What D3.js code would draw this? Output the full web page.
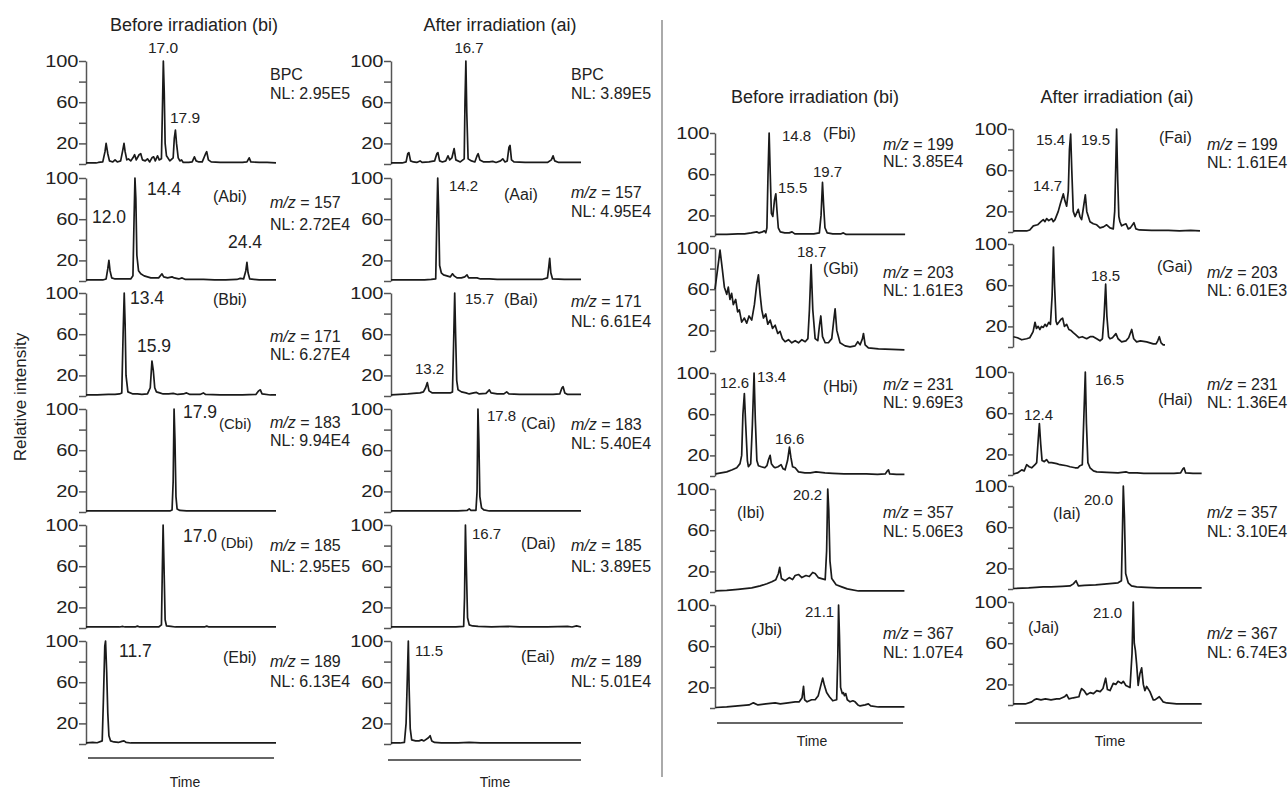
<!DOCTYPE html>
<html>
<head>
<meta charset="utf-8">
<script src="https://cdn.jsdelivr.net/npm/d3@7"></script>
<style>
  body { margin: 0; background: #fff; }
  svg { display: block; }
</style>
</head>
<body>
<div id="chart"></div>
<script>
const width = 1288;
const height = 792;
const FONT = '"Liberation Sans", Arial, Helvetica, sans-serif';

// ---- data: panels, m/z, NL ----
const colTitles = ['Before irradiation (bi)', 'After irradiation (ai)', 'Before irradiation (bi)', 'After irradiation (ai)'];
const panelsLeftBi = ['BPCbi', 'Abi', 'Bbi', 'Cbi', 'Dbi', 'Ebi'];
const panelsLeftAi = ['BPCai', 'Aai', 'Bai', 'Cai', 'Dai', 'Eai'];
const panelsRightBi = ['Fbi', 'Gbi', 'Hbi', 'Ibi', 'Jbi'];
const panelsRightAi = ['Fai', 'Gai', 'Hai', 'Iai', 'Jai'];
const mzLeft = [null, 157, 171, 183, 185, 189];
const mzRight = [199, 203, 231, 357, 367];
const nlLeftBi = ['2.95E5', '2.72E4', '6.27E4', '9.94E4', '2.95E5', '6.13E4'];
const nlLeftAi = ['3.89E5', '4.95E4', '6.61E4', '5.40E4', '3.89E5', '5.01E4'];
const nlRightBi = ['3.85E4', '1.61E3', '9.69E3', '5.06E3', '1.07E4'];
const nlRightAi = ['1.61E4', '6.01E3', '1.36E4', '3.10E4', '6.74E3'];
const yTicks = [0, 20, 40, 60, 80, 100];
const yTickLabels = [100, 60, 20];

// ---- data: chromatogram traces [time (min), relative intensity] ----
const tBPCbi = [[10,1],[10.9,1],[11.1,1.5],[11.5,2],[11.7,12],[11.8,20],[11.95,10],[12.1,3],[12.4,2],[12.6,4],[12.8,2],[13.1,3],[13.3,14],[13.4,20],[13.5,12],[13.65,4],[13.8,5],[14.0,3],[14.2,6],[14.35,9],[14.5,4],[14.75,9],[14.9,10],[15.05,4],[15.3,3],[15.5,5],[15.7,2],[15.9,6],[16.05,7],[16.2,3],[16.4,8],[16.55,4],[16.75,5],[16.85,60],[16.92,100],[17.0,70],[17.08,20],[17.2,8],[17.5,3],[17.8,6],[17.9,25],[18.0,33],[18.1,20],[18.25,6],[18.4,3],[18.55,4],[18.7,1.5],[19.2,1.5],[19.5,2],[19.7,7],[19.85,3],[20.1,2],[20.4,2],[20.7,10],[20.8,12],[20.95,4],[21.2,2],[22,1.5],[23,1.5],[24,1.5],[24.4,2],[24.6,6],[24.75,2],[25.5,1.5],[26.2,1.5],[27,1]];
const tAbi = [[10,1],[11.5,1],[11.8,2],[11.95,12],[12.05,20],[12.15,10],[12.3,3],[12.6,2],[13.2,2],[13.6,2],[14.0,2],[14.2,5],[14.3,60],[14.38,100],[14.46,80],[14.55,25],[14.7,10],[14.9,7],[15.2,5],[15.5,4],[15.8,3],[16.2,3],[16.5,3],[16.8,7],[16.95,4],[17.3,3],[17.7,4],[17.9,3],[18.3,2],[18.6,3],[18.9,1.5],[19.5,1.5],[20.5,1.5],[21.5,1],[22.5,1],[23.5,1.5],[23.8,2.5],[24.1,2],[24.3,10],[24.4,18],[24.5,8],[24.65,2],[25.5,1],[26.5,1],[27,1]];
const tBbi = [[10,1],[11,1],[12,1.5],[12.6,1.5],[13,2],[13.2,3],[13.32,60],[13.42,100],[13.5,70],[13.58,20],[13.75,4],[14.2,2],[14.6,2],[15.0,1.5],[15.5,2],[15.75,8],[15.9,34],[16.02,25],[16.15,8],[16.3,4],[16.6,3],[16.9,2],[17.4,2],[17.8,2.5],[18.2,1.5],[18.7,2],[19.0,3],[19.3,1.5],[20.2,1.5],[20.5,3],[20.7,1.5],[22,1],[24,1],[25.2,1.5],[25.45,5],[25.6,6],[25.75,2],[26.5,1],[27,1]];
const tCbi = [[10,1],[12,1],[14,1],[16,1],[17.5,1],[17.7,2],[17.8,30],[17.88,100],[17.96,70],[18.05,15],[18.15,3],[18.4,1.5],[19,1],[21,1],[24,1],[27,1]];
const tDbi = [[10,1],[11.5,1],[13.0,1],[13.3,1.5],[13.5,1],[14.4,1],[14.6,1.8],[14.8,1],[16.5,1],[16.75,3],[16.82,50],[16.9,100],[16.98,60],[17.08,8],[17.2,2],[17.6,1.5],[18,1],[20.6,1],[20.8,1.8],[21,1],[24,1],[27,1]];
const tEbi = [[10,1],[10.6,1.5],[11.0,1.2],[11.45,3],[11.55,40],[11.68,95],[11.75,100],[11.85,70],[11.95,30],[12.05,8],[12.2,3],[12.5,2],[12.9,1.5],[13.2,2.5],[13.4,3],[13.6,1.5],[14,1],[16,1],[18,1],[20,1],[23,1],[27,1]];
const tBPCai = [[10,1],[11,1],[11.35,2],[11.5,10],[11.6,11],[11.75,3],[12.0,2],[12.3,1.5],[12.6,3],[12.8,1.5],[13.4,2],[13.9,3],[14.1,10],[14.2,11],[14.35,3],[14.6,2],[14.9,3],[15.1,8],[15.25,4],[15.45,6],[15.65,15],[15.8,4],[16.2,2],[16.55,5],[16.62,60],[16.7,100],[16.78,50],[16.9,5],[17.2,3],[17.5,2],[17.7,8],[17.8,10],[17.95,4],[18.3,2],[18.8,2],[19.1,2.5],[19.4,1.5],[19.8,3],[20.0,5],[20.2,2],[20.4,3],[20.55,16],[20.65,18],[20.78,4],[21.0,2],[22,1.5],[23,1.5],[24,1.5],[24.35,4],[24.5,8],[24.65,3],[25,1.5],[26,1.5],[27,1.5]];
const tAai = [[10,1],[12,1],[13,1],[13.6,1.5],[14.0,2],[14.1,60],[14.18,100],[14.26,70],[14.35,15],[14.5,8],[14.7,6],[15.0,5],[15.3,4],[15.5,7],[15.65,5],[15.9,3],[16.3,3],[16.6,4],[16.8,6],[16.95,3],[17.3,3],[17.7,3],[18.0,2],[18.8,2],[19.5,1.5],[20.5,1.5],[21.5,1.5],[22.5,1.5],[23.5,1.5],[24.0,3],[24.12,14],[24.2,22],[24.3,8],[24.45,2],[25.5,1.5],[27,1.5]];
const tBai = [[10,1],[10.8,1.5],[11.5,2],[12,2.5],[12.6,3],[12.9,4],[13.1,8],[13.25,13],[13.4,5],[13.7,3],[14.4,3],[15.3,3],[15.5,4],[15.6,50],[15.7,100],[15.78,60],[15.88,15],[16.0,6],[16.3,4],[16.7,3],[17.0,2],[17.4,3],[17.65,3.5],[17.9,2],[18.5,2.5],[18.8,6],[18.95,3],[19.5,2],[20.1,2],[20.35,4],[20.55,2],[21.5,1.5],[22.5,1.5],[23.5,1.5],[24.5,1.5],[25.1,2],[25.3,8],[25.4,9],[25.55,3],[25.8,1.5],[27,1.5]];
const tCai = [[10,1],[12,1],[14,1],[16,1],[16.8,1.5],[17.0,3],[17.15,1.5],[17.6,1.5],[17.7,20],[17.78,100],[17.86,70],[17.95,15],[18.1,4],[18.3,2],[18.8,1],[20,1],[22,1],[24,1],[27,1]];
const tDai = [[10,1],[11.5,1.2],[12.5,1],[14.5,1],[15.8,1],[16.5,1.5],[16.58,30],[16.66,100],[16.74,60],[16.85,10],[17.0,3],[17.3,2],[17.8,1.5],[19,1],[20.5,1.5],[21.5,1],[24,1],[25.8,1.5],[26.2,1],[26.6,2],[27,1]];
const tEai = [[10,1],[10.8,1],[11.2,1.5],[11.35,20],[11.45,60],[11.55,100],[11.62,55],[11.72,15],[11.85,4],[12.2,3],[12.5,3],[12.75,4],[12.95,3],[13.35,6],[13.5,8],[13.65,3],[13.9,1.5],[14.5,1],[16,1],[17,1.5],[18,1],[21,1],[24,1],[27,1]];
const tFbi = [[10.0,1.5],[11.0,1.5],[12.0,2],[12.6,2],[13.2,3],[13.69,4],[13.9,3],[14.2,4],[14.38,5],[14.5,3],[14.6,8],[14.7,60],[14.8,100],[14.9,60],[15.0,22],[15.13,19],[15.28,35],[15.4,41],[15.5,25],[15.62,8],[15.8,4],[16.2,3],[16.6,3],[16.85,4],[17.1,2],[17.8,2],[18.3,2],[18.8,2],[19.3,3],[19.45,20],[19.58,52],[19.68,30],[19.8,8],[20.0,3],[20.5,2],[21.2,2],[21.45,3],[21.7,1.5],[22.5,1.5],[23.5,1.5],[24.5,1.5],[25.5,1.5],[26.98,1.5]];
const tGbi = [[9.95,60],[10.25,85],[10.4,98],[10.6,80],[10.79,62],[11.0,55],[11.14,62],[11.29,50],[11.44,56],[11.59,45],[11.8,50],[11.98,38],[12.13,40],[12.34,28],[12.58,32],[12.79,27],[13.0,34],[13.24,30],[13.48,45],[13.69,65],[13.84,74],[13.99,55],[14.14,40],[14.29,32],[14.5,36],[14.68,26],[14.89,30],[15.1,22],[15.34,25],[15.57,17],[15.78,19],[15.99,12],[16.23,9],[16.53,11],[16.83,8],[17.13,10],[17.43,8],[17.73,11],[18.03,9],[18.27,12],[18.41,40],[18.56,84],[18.71,40],[18.92,12],[19.16,10],[19.31,25],[19.43,34],[19.58,14],[19.82,8],[20.11,8],[20.41,12],[20.59,30],[20.71,41],[20.86,20],[21.15,8],[21.6,5],[22.05,4],[22.5,5],[22.74,9],[22.95,6],[23.16,12],[23.25,17],[23.4,6],[23.69,3],[24.59,2],[25.79,1.5],[26.92,1]];
const tHbi = [[10.0,2],[10.5,3],[11.0,4],[11.5,6],[11.9,8],[12.19,12],[12.34,20],[12.45,60],[12.58,80],[12.7,50],[12.85,15],[12.94,9],[13.15,12],[13.3,50],[13.45,100],[13.56,55],[13.7,15],[13.84,10],[14.1,9],[14.4,8],[14.6,10],[14.75,16],[14.89,20],[15.0,12],[15.2,9],[15.34,8],[15.6,9],[15.87,11],[16.05,7],[16.23,6],[16.45,15],[16.62,28],[16.75,18],[16.9,9],[17.13,8],[17.43,4],[18,3],[18.5,3],[19,4],[19.8,3],[20.5,2.5],[21.5,2],[22.5,2],[23.5,2],[24.5,1.5],[25.2,2],[25.4,5],[25.49,6],[25.6,2],[26.2,1.5],[26.92,1.5]];
const tIbi = [[10.0,1],[11.0,1.5],[12.0,2.5],[13.24,4],[14.0,6],[14.6,8],[15.04,10],[15.4,12],[15.63,18],[15.75,24],[15.9,13],[16.23,11],[16.6,14],[16.9,12],[17.13,16],[17.43,17],[17.73,14],[18.1,16],[18.4,15],[18.7,19],[18.92,18],[19.2,14],[19.5,13],[19.82,12],[19.95,40],[20.05,100],[20.14,80],[20.25,30],[20.41,13],[20.8,7],[21.3,5],[21.8,3],[22.8,1],[24,1],[26.92,1]];
const tJbi = [[10.0,0.5],[11,1],[12,2],[13.0,3],[13.39,5],[13.8,3],[14.5,4],[15.34,5],[15.8,4],[16.5,5],[17.13,6],[17.5,6],[17.75,10],[17.88,21],[17.98,8],[18.2,6],[18.6,8],[18.92,8],[19.2,12],[19.43,22],[19.6,29],[19.75,22],[19.95,15],[20.2,11],[20.5,7],[20.85,8],[20.95,50],[21.02,100],[21.1,70],[21.2,20],[21.35,14],[21.45,15],[21.55,12],[21.66,14],[21.8,8],[22.05,6],[22.3,7],[22.5,6],[22.75,3],[22.95,2],[23.4,3],[23.69,4],[23.9,2],[24.59,1],[26.92,1]];
const tFai = [[10.13,1],[11.32,1],[11.6,2],[11.92,6],[12.3,7],[12.6,10],[12.81,12],[12.96,10],[13.11,13],[13.3,11],[13.56,13],[13.7,10],[13.86,12],[14.15,20],[14.35,28],[14.6,37],[14.75,30],[14.9,25],[15.05,40],[15.15,80],[15.26,95],[15.36,60],[15.49,20],[15.65,15],[15.94,22],[16.09,15],[16.24,12],[16.42,25],[16.57,36],[16.7,20],[16.99,10],[17.28,8],[17.59,7],[17.88,4],[18.2,5],[18.48,7],[18.78,4],[19.07,3],[19.2,20],[19.37,100],[19.47,50],[19.57,15],[19.67,10],[19.82,6],[20.0,7],[20.21,8],[20.41,3],[20.6,4],[20.92,9],[21.1,3],[21.4,2],[22.5,1.5],[24,1.5],[25,1],[26,1.5],[26.83,1]];
const tGai = [[10.13,10],[10.5,9],[10.88,7],[11.32,8],[11.6,9],[11.9,15],[12.07,24],[12.2,18],[12.35,20],[12.51,17],[12.65,20],[12.81,19],[12.96,22],[13.11,20],[13.3,24],[13.45,22],[13.6,50],[13.72,97],[13.82,60],[13.95,25],[14.05,22],[14.2,24],[14.4,27],[14.54,28],[14.7,20],[14.9,22],[15.1,17],[15.3,16],[15.49,14],[15.7,12],[15.99,9],[16.3,10],[16.69,8],[17.0,10],[17.28,10],[17.59,8],[17.88,6],[18.1,8],[18.25,30],[18.39,61],[18.5,30],[18.65,10],[18.78,8],[19.0,9],[19.31,13],[19.5,8],[19.82,5],[20.2,6],[20.45,9],[20.72,17],[20.9,8],[21.16,5],[21.5,6],[22.06,5],[22.65,3],[22.9,3],[23.05,6],[23.19,10],[23.35,4],[23.54,2],[23.7,2]];
const tHai = [[10.13,1],[10.5,2],[10.88,5],[11.1,4],[11.32,10],[11.55,8],[11.77,7],[12.07,10],[12.22,12],[12.36,35],[12.46,50],[12.58,30],[12.7,14],[12.9,13],[13.1,15],[13.3,12],[13.56,12],[14.01,11],[14.3,10],[14.9,9],[15.2,8],[15.65,7],[15.9,7],[16.09,9],[16.3,10],[16.45,60],[16.57,100],[16.67,50],[16.8,12],[16.99,7],[17.3,4],[17.59,3],[18.5,2.5],[19.5,2],[20.21,3],[20.5,2],[21.2,2],[21.8,1.5],[23,1.5],[24.5,1.5],[25.1,2],[25.3,6],[25.4,7],[25.55,2],[26.2,1.5],[26.98,1.5]];
const tIai = [[10.13,0.5],[11.5,1],[12.81,2],[13.5,2],[14.5,2.5],[15.2,3],[15.5,5],[15.74,8],[15.95,3],[16.5,3.5],[17.5,4],[18.5,5],[19.5,6],[19.8,8],[19.9,60],[19.97,100],[20.07,70],[20.18,15],[20.41,6],[20.7,3],[21.16,2],[22,1.5],[23,1],[25,1],[26.98,1]];
const tJai = [[10.13,1],[11.2,1],[11.77,3],[12.0,5],[12.22,6],[12.6,5],[13.0,6],[13.5,5],[14.0,6],[14.3,6],[14.7,8],[14.9,10],[15.1,6],[15.5,7],[16.0,8],[16.1,12],[16.24,16],[16.45,14],[16.7,10],[17.0,12],[17.3,11],[17.59,14],[17.9,13],[18.15,16],[18.39,26],[18.55,15],[18.78,14],[19.07,21],[19.3,20],[19.5,23],[19.8,21],[19.97,23],[20.2,19],[20.57,17],[20.75,50],[20.86,100],[20.95,60],[21.05,53],[21.16,40],[21.3,19],[21.45,30],[21.61,36],[21.76,20],[21.9,14],[22.06,18],[22.35,13],[22.65,5],[22.8,5],[23.19,8],[23.4,5],[23.54,3],[23.85,2],[24.74,1],[26.98,1]];

// ---- data: peak retention-time labels [panel, text, time, intensity, anchor] ----
const peakLabels = [
  ['BPCbi','17.0',16.89,107.8,'middle'], ['BPCbi','17.9',17.51,39.8],
  ['Abi','14.4',15.46,83.5], ['Abi','12.0',10.54,56.3], ['Abi','24.4',22.7,32],
  ['Bbi','13.4',13.94,89.3], ['Bbi','15.9',14.56,42.7],
  ['Cbi','17.9',18.68,91.3], ['Dbi','17.0',18.68,83.5], ['Ebi','11.7',12.95,84.5],
  ['BPCai','16.7',16.98,107.8,'middle'], ['Aai','14.2',15.19,87.4],
  ['Bai','15.7',16.62,89.3], ['Bai','13.2',12.15,21.4],
  ['Cai','17.8',18.59,88.3], ['Dai','16.7',17.25,86.4], ['Eai','11.5',12.15,85.4],
  ['Fbi','14.8',15.95,92.2], ['Fbi','19.7',18.73,57.3], ['Fbi','15.5',15.6,41.7],
  ['Gbi','18.7',17.3,91.3],
  ['Hbi','12.6',10.4,85.4], ['Hbi','13.4',13.71,91.3], ['Hbi','16.6',15.33,31.1],
  ['Ibi','20.2',16.94,89.3], ['Jbi','21.1',18.01,88.3],
  ['Fai','15.4',12.16,84.5], ['Fai','19.5',16.18,84.5], ['Fai','14.7',11.89,39.8],
  ['Gai','18.5',17.08,64.1],
  ['Hai','16.5',17.43,87.4], ['Hai','12.4',11.08,53.4],
  ['Iai','20.0',16.45,81.6], ['Jai','21.0',17.26,84.5]
];

// panel tags [panel, time, intensity]
const panelTags = [
  ['Abi',21.36,76.7], ['Bbi',21.36,88.3], ['Cbi',21.9,80.6], ['Dbi',22.05,77.6], ['Ebi',22.25,78.6],
  ['Aai',20.11,78.6], ['Bai',20.11,88.3], ['Cai',21.63,80.6], ['Dai',21.63,76.7], ['Eai',21.63,79.6],
  ['Fbi',19.63,94.2], ['Gbi',19.63,74.8], ['Hbi',19.63,81.6], ['Ibi',11.92,71.8], ['Jbi',13.18,70.9],
  ['Fai',23.16,86.4], ['Gai',22.98,72.8], ['Hai',23.07,68], ['Iai',13.68,68], ['Jai',11.44,69.9]
];

const traces = {
  BPCbi: tBPCbi, Abi: tAbi, Bbi: tBbi, Cbi: tCbi, Dbi: tDbi, Ebi: tEbi,
  BPCai: tBPCai, Aai: tAai, Bai: tBai, Cai: tCai, Dai: tDai, Eai: tEai,
  Fbi: tFbi, Gbi: tGbi, Hbi: tHbi, Ibi: tIbi, Jbi: tJbi,
  Fai: tFai, Gai: tGai, Hai: tHai, Iai: tIai, Jai: tJai
};

// ---- layout ----
const panelH = 103;
const columns = [
  { panels: panelsLeftBi, mz: mzLeft, nl: nlLeftBi, x0: 86, x1: 276, dom: [10, 27],
    tops: [61, 178, 293, 409, 525, 641], tick: 7, annX: 270,
    mzY: [80, 208, 342, 428, 551, 667], nlY: [99, 230, 360, 446, 572, 687],
    titleX: 194, titleY: 31, timeLine: [88, 274, 758], timeLabel: [185, 787], peakSize: 17.5 },
  { panels: panelsLeftAi, mz: mzLeft, nl: nlLeftAi, x0: 391, x1: 581, dom: [10, 27],
    tops: [61, 178, 293, 409, 525, 641], tick: 7, annX: 571,
    mzY: [80, 198, 307, 430, 551, 667], nlY: [99, 217, 327, 449, 572, 687],
    titleX: 500, titleY: 31, timeLine: [388, 581, 760], timeLabel: [495, 787], peakSize: 15 },
  { panels: panelsRightBi, mz: mzRight, nl: nlRightBi, x0: 715, x1: 907, dom: [9.95, 27.15],
    tops: [133, 248, 373, 489, 605], tick: 5, annX: 883,
    mzY: [150, 278, 390, 518, 639], nlY: [167, 296, 408, 537, 658],
    titleX: 815, titleY: 103, timeLine: [717, 903, 723], timeLabel: [812, 746], peakSize: 15 },
  { panels: panelsRightAi, mz: mzRight, nl: nlRightAi, x0: 1013, x1: 1203, dom: [10.1, 27.1],
    tops: [129, 244, 372, 486, 602], tick: 5, annX: 1207,
    mzY: [150, 278, 390, 518, 639], nlY: [168, 296, 408, 537, 658],
    titleX: 1117, titleY: 103, timeLine: [1015, 1202, 723], timeLabel: [1110, 746], peakSize: 15 }
];

const svg = d3.select('#chart').append('svg')
  .attr('width', width).attr('height', height)
  .attr('font-family', FONT);

const ink = '#222';
const line = d3.line().x(d => d[0]).y(d => d[1]);

columns.forEach((col, ci) => {
  const x = d3.scaleLinear().domain(col.dom).range([col.x0, col.x1]);

  svg.append('text')
    .attr('x', col.titleX).attr('y', col.titleY)
    .attr('text-anchor', 'middle').attr('font-size', 18).attr('fill', ink)
    .text(colTitles[ci]);

  col.panels.forEach((name, ri) => {
    const top = col.tops[ri];
    const y = d3.scaleLinear().domain([0, 100]).range([top + panelH, top]);
    const g = svg.append('g');

    const axis = d3.axisLeft(y)
      .tickValues(yTicks)
      .tickSize(col.tick).tickSizeOuter(0).tickPadding(0)
      .tickFormat(d => yTickLabels.includes(d) ? d : '');
    const ag = g.append('g')
      .attr('transform', `translate(${col.x0},0)`)
      .call(axis)
      .attr('font-family', FONT).attr('font-size', 16);
    ag.select('.domain').attr('stroke', '#555').attr('stroke-width', 1.5);
    ag.selectAll('.tick line').attr('stroke', '#555').attr('stroke-width', 1.5);
    ag.selectAll('.tick text')
      .attr('x', 0).attr('fill', ink)
      .attr('transform', `translate(${-col.tick - 0.5},0) scale(1.25,1)`);

    g.append('path')
      .datum(traces[name].map(d => [x(d[0]), y(d[1])]))
      .attr('d', line)
      .attr('fill', 'none').attr('stroke', '#1a1a1a')
      .attr('stroke-width', 1.7).attr('stroke-linejoin', 'round');

    peakLabels.filter(p => p[0] === name).forEach(p => {
      const bpc = name.startsWith('BPC');
      g.append('text')
        .attr('x', x(p[2])).attr('y', y(p[3]))
        .attr('text-anchor', p[4] || 'start')
        .attr('font-size', bpc && ci === 0 ? 15.5 : col.peakSize)
        .attr('fill', ink).text(p[1]);
    });

    panelTags.filter(p => p[0] === name).forEach(p => {
      g.append('text')
        .attr('x', x(p[1])).attr('y', y(p[2]))
        .attr('font-size', ci === 0 && (name === 'Cbi' || name === 'Dbi') ? 15 : 16)
        .attr('fill', ink)
        .text(`(${name})`);
    });

    const mz = col.mz[ri];
    const t1 = g.append('text')
      .attr('x', col.annX).attr('y', col.mzY[ri])
      .attr('font-size', 16).attr('fill', ink);
    if (mz === null) {
      t1.text('BPC');
    } else {
      t1.append('tspan').attr('font-style', 'italic').text('m/z');
      t1.append('tspan').text(` = ${mz}`);
    }
    g.append('text')
      .attr('x', col.annX).attr('y', col.nlY[ri])
      .attr('font-size', 16).attr('fill', ink)
      .text(`NL: ${col.nl[ri]}`);
  });

  // time axis bar
  svg.append('line')
    .attr('x1', col.timeLine[0]).attr('x2', col.timeLine[1])
    .attr('y1', col.timeLine[2]).attr('y2', col.timeLine[2])
    .attr('stroke', '#666').attr('stroke-width', 2);
  svg.append('text')
    .attr('x', col.timeLabel[0]).attr('y', col.timeLabel[1])
    .attr('text-anchor', 'middle').attr('font-size', 14).attr('fill', ink)
    .text('Time');
});

// shared y label
svg.append('text')
  .attr('transform', 'translate(26,397) rotate(-90)')
  .attr('text-anchor', 'middle').attr('font-size', 17).attr('fill', ink)
  .text('Relative intensity');

// divider between the two halves
svg.append('line')
  .attr('x1', 662).attr('x2', 662).attr('y1', 20).attr('y2', 777)
  .attr('stroke', '#aaa').attr('stroke-width', 2);
</script>
</body>
</html>
